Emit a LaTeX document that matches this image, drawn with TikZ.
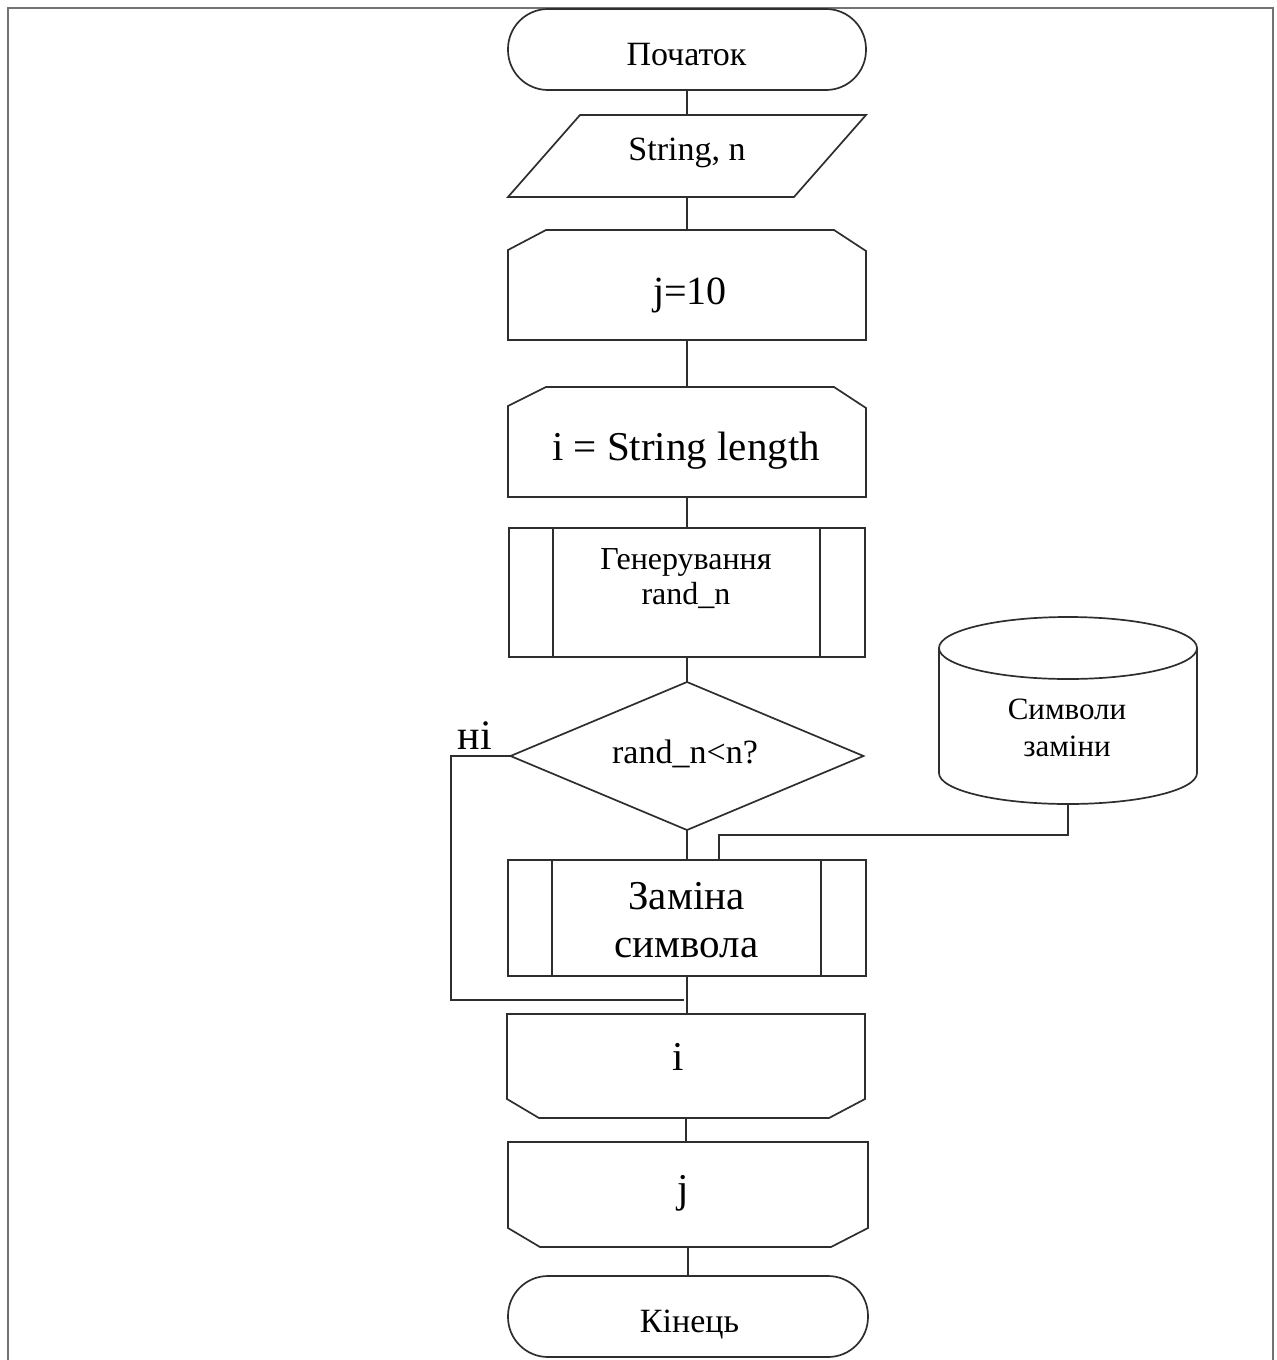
\documentclass[tikz,border=0pt]{standalone}
\usepackage{fontspec}
\setmainfont{Liberation Serif}
\usetikzlibrary{calc}
\tikzset{
  outline/.style={draw=black!82, line width=1.7pt},
  conn/.style={draw=black!82, line width=2pt},
  frameline/.style={draw=black!55, line width=2pt},
  blk/.style={rectangle, inner sep=0pt, outer sep=0pt, draw=none},
  lbl/.style={inner sep=0pt, outer sep=0pt, text=black},
  big/.style={font=\fontsize{41}{48}\selectfont},
  mid/.style={font=\fontsize{34}{40}\selectfont},
}
\begin{document}
\begin{tikzpicture}[x=1pt,y=-1pt]
\useasboundingbox (0,0) rectangle (1277,1360);
% frame
\draw[frameline] (8,1362) -- (8,8) -- (1273,8) -- (1273,1362);

% shape anchor nodes
\node[blk, outline, rounded corners=40pt, minimum width=358pt, minimum height=81pt] (start) at (687,49.5) {};
\node[blk, minimum width=358pt, minimum height=82pt] (inp) at (687,156) {};
\node[blk, minimum width=358pt, minimum height=110pt] (j10) at (687,285) {};
\node[blk, minimum width=358pt, minimum height=110pt] (ilen) at (687,442) {};
\node[blk, outline, minimum width=356pt, minimum height=129pt] (gen) at (687,592.5) {};
\node[blk, minimum width=353pt, minimum height=148pt] (dec) at (687,756) {};
\node[blk, minimum width=258pt, minimum height=187pt] (db) at (1068,710.5) {};
\node[blk, outline, minimum width=358pt, minimum height=116pt] (zam) at (687,918) {};
\node[blk, minimum width=358pt, minimum height=104pt] (iend) at (686,1066) {};
\node[blk, minimum width=360pt, minimum height=105pt] (jend) at (688,1194.5) {};
\node[blk, outline, rounded corners=40pt, minimum width=360pt, minimum height=81pt] (fin) at (688,1316.5) {};

% parallelogram
\draw[outline] ($(inp.north west)+(72,0)$) -- (inp.north east) -- ($(inp.south east)+(-72,0)$) -- (inp.south west) -- cycle;
% loop start shapes (top chamfers)
\draw[outline] ($(j10.north west)+(0,20)$) -- ($(j10.north west)+(38,0)$) -- ($(j10.north east)+(-32,0)$) -- ($(j10.north east)+(0,21)$) -- (j10.south east) -- (j10.south west) -- cycle;
\draw[outline] ($(ilen.north west)+(0,19)$) -- ($(ilen.north west)+(38,0)$) -- ($(ilen.north east)+(-32,0)$) -- ($(ilen.north east)+(0,21)$) -- (ilen.south east) -- (ilen.south west) -- cycle;
% predefined process inner lines
\draw[outline] ($(gen.north west)+(44,0)$) -- ($(gen.south west)+(44,0)$);
\draw[outline] ($(gen.north east)+(-45,0)$) -- ($(gen.south east)+(-45,0)$);
\draw[outline] ($(zam.north west)+(44,0)$) -- ($(zam.south west)+(44,0)$);
\draw[outline] ($(zam.north east)+(-45,0)$) -- ($(zam.south east)+(-45,0)$);
% decision
\draw[outline] (dec.north) -- (dec.east) -- (dec.south) -- (dec.west) -- cycle;
% cylinder
\draw[outline] (db.west |- 0,648) arc[start angle=180, end angle=-180, x radius=129, y radius=31];
\draw[outline] (db.west |- 0,648) -- (db.west |- 0,773) arc[start angle=180, end angle=360, x radius=129, y radius=-31] -- (db.east |- 0,648);
% loop end shapes (bottom chamfers)
\draw[outline] (iend.north west) -- (iend.north east) -- ($(iend.south east)+(0,-19)$) -- ($(iend.south east)+(-36,0)$) -- ($(iend.south west)+(32,0)$) -- ($(iend.south west)+(0,-19)$) -- cycle;
\draw[outline] (jend.north west) -- (jend.north east) -- ($(jend.south east)+(0,-19)$) -- ($(jend.south east)+(-37,0)$) -- ($(jend.south west)+(32,0)$) -- ($(jend.south west)+(0,-19)$) -- cycle;

% texts
\node[lbl, mid, anchor=base] (start-t) at (686.5,65) {Початок};
\node[lbl, mid, anchor=base] (inp-t) at (687,160) {String, n};
\node[lbl, font=\fontsize{40}{48}\selectfont, anchor=base] (j10-t) at (690,304) {j=10};
\node[lbl, big, anchor=base] (ilen-t) at (686,460) {i = String length};
\node[lbl, font=\fontsize{32}{35}\selectfont, align=center] (gen-t) at (686,579) {Генерування\\rand\_n};
\node[lbl, mid, anchor=base] (dec-t) at (685,763) {rand\_n<n?};
\node[lbl, font=\fontsize{31}{37}\selectfont, align=center] (db-t) at (1067,728) {Символи\\заміни};
\node[lbl, big, align=center] (zam-t) at (686.5,920) {Заміна\\символа};
\node[lbl, font=\fontsize{42}{48}\selectfont, anchor=base] (no-t) at (475,749) {ні};
\node[lbl, big, anchor=base] (iend-t) at (678,1070) {i};
\node[lbl, big, anchor=base] (jend-t) at (683,1202) {j};
\node[lbl, mid, anchor=base] (fin-t) at (689.5,1332) {Кінець};

% connectors
\draw[conn] (start.south) -- (start.south |- inp.north);
\draw[conn] (inp.south) -- (inp.south |- j10.north);
\draw[conn] (j10.south) -- (j10.south |- ilen.north);
\draw[conn] (ilen.south) -- (ilen.south |- gen.north);
\draw[conn] (gen.south) -- (gen.south |- dec.north);
\draw[conn] (dec.south) -- (dec.south |- zam.north);
\draw[conn] (zam.south) -- (zam.south |- iend.north);
\draw[conn] (iend.south) -- (iend.south |- jend.north);
\draw[conn] (jend.south) -- (jend.south |- fin.north);
\coordinate (dbj) at (719,835);
\draw[conn] (db.south) |- (dbj) -- (dbj |- zam.north);
\coordinate (loopL) at (451,1000);
\coordinate (loopE) at (684,1000);
\draw[conn] (dec.west) -| (loopL) -- (loopE);
\end{tikzpicture}
\end{document}
